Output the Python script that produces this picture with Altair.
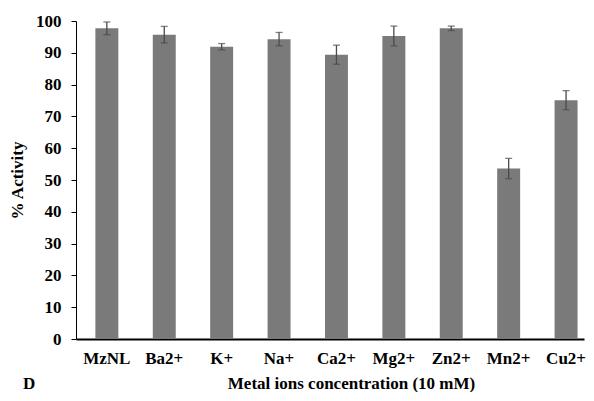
import altair as alt
import pandas as pd

categories = ["MzNL", "Ba2+", "K+", "Na+", "Ca2+", "Mg2+", "Zn2+", "Mn2+", "Cu2+"]
activity = [97.7, 95.7, 91.9, 94.3, 89.4, 95.3, 97.7, 53.6, 75.1]
errors = [2.0, 2.6, 1.0, 2.1, 3.0, 3.1, 0.7, 3.2, 3.0]
y_ticks = [0, 10, 20, 30, 40, 50, 60, 70, 80, 90, 100]

df = pd.DataFrame({"ion": categories, "act": activity, "err": errors})
df["lo"] = df["act"] - df["err"]
df["hi"] = df["act"] + df["err"]

FONT = "Liberation Serif"

xscale = alt.Scale(paddingInner=0.6, paddingOuter=0.225, align=0.75)
xaxis = alt.Axis(title="Metal ions concentration (10 mM)", labelAngle=0,
                 ticks=False, labelPadding=11, titlePadding=9,
                 titleX=275, domainWidth=2, domainColor="black")
yscale = alt.Scale(domain=[0, 100])
yaxis = alt.Axis(title="% Activity", values=y_ticks, tickCount=11,
                 grid=False, tickSize=5, tickColor="black", labelOverlap=False,
                 domainColor="black", labelPadding=10, titlePadding=9)

xs = alt.X("ion:N", sort=categories, scale=xscale, axis=xaxis)
base = alt.Chart(df)
bars = base.mark_bar(color="#7a7a7a").encode(
    x=xs, y=alt.Y("act:Q", scale=yscale, axis=yaxis))
rules = base.mark_rule(color="#4a4a4a", strokeWidth=1.3).encode(
    x=xs, y=alt.Y("lo:Q", scale=yscale, axis=yaxis), y2="hi:Q")
caps_hi = base.mark_tick(color="#4a4a4a", size=7, thickness=1.3).encode(
    x=xs, y=alt.Y("hi:Q", scale=yscale, axis=yaxis))
caps_lo = base.mark_tick(color="#4a4a4a", size=7, thickness=1.3).encode(
    x=xs, y=alt.Y("lo:Q", scale=yscale, axis=yaxis))
label = alt.Chart(pd.DataFrame({"t": ["D"]})).mark_text(
    font=FONT, fontWeight="bold", fontSize=17, align="left", baseline="middle"
).encode(text="t:N", x=alt.value(-53), y=alt.value(363))

chart = alt.layer(bars, rules, caps_hi, caps_lo, label).properties(
    width=508, height=318, padding={"left": 0, "top": 4, "right": 0, "bottom": 0}
).configure_view(stroke=None).configure_axis(
    labelFont=FONT, titleFont=FONT, labelFontSize=17, titleFontSize=17,
    labelFontWeight="bold", titleFontWeight="bold",
    labelColor="black", titleColor="black"
)

chart.save("out.html", embed_options={"renderer": "svg", "actions": False})
